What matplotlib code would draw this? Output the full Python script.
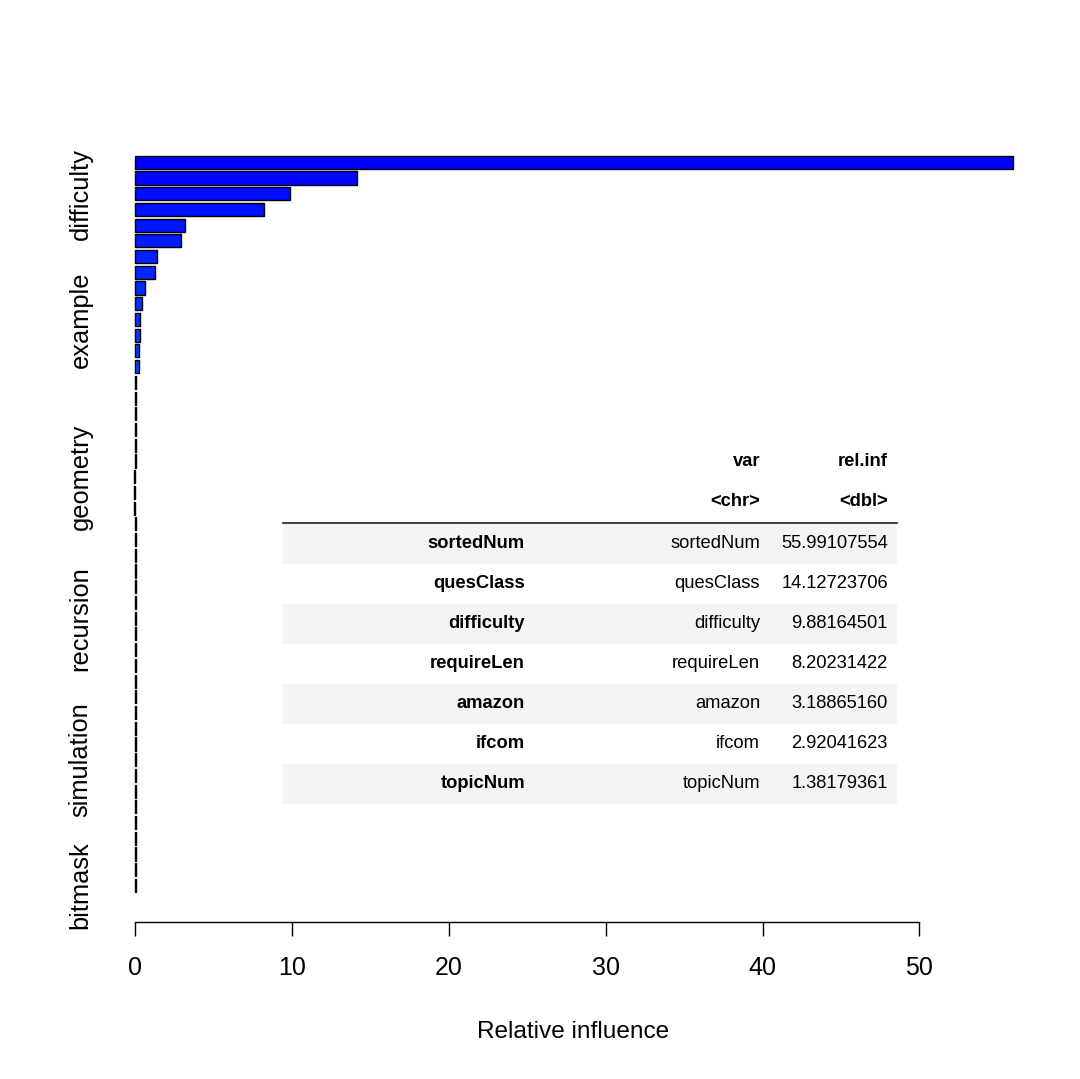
import numpy as np
import matplotlib
matplotlib.use("Agg")
import matplotlib.pyplot as plt
from matplotlib.colors import hsv_to_rgb
from matplotlib.patches import Rectangle
from matplotlib.lines import Line2D

plt.rcParams['font.family'] = ['Liberation Sans', 'DejaVu Sans']

# relative influence of all 47 predictors, largest first
rel_inf = [55.99107554, 14.12723706, 9.88164501, 8.20231422, 3.18865160,
           2.92041623, 1.38179361, 1.25, 0.62, 0.45, 0.28, 0.27, 0.26, 0.25,
           0.07, 0.07, 0.06, 0.06, 0.06, 0.06, -0.08, -0.08, -0.08,
           0.01, 0.01, 0.01, 0.01, 0.01, 0.01, 0.01, 0.01, 0.01, 0.01,
           0.01, 0.01, 0.01, 0.01, 0.01, 0.01, 0.01, 0.01, 0.01, 0.01,
           0.01, 0.01, 0.01, 0.01]

# only these bar names fit on the axis (rank -> name)
shown_rank = [3, 11, 21, 30, 39, 47]
shown_name = ["difficulty", "example", "geometry", "recursion", "simulation", "bitmask"]

# head of the summary table
tab_var = ["sortedNum", "quesClass", "difficulty", "requireLen", "amazon", "ifcom", "topicNum"]
tab_val = ["55.99107554", "14.12723706", "9.88164501", "8.20231422",
           "3.18865160", "2.92041623", "1.38179361"]

W, H = 1080, 1079
fig = plt.figure(figsize=(W / 100, H / 100), dpi=100)

def fx(px):
    return px / W

def fy(py):
    return 1 - py / H

ax = fig.add_axes([fx(98), fy(921.5), fx(1049) - fx(98), fy(126.2) - fy(921.5)])

n = len(rel_inf)
ranks = np.arange(1, n + 1)
ypos = 0.7 + 1.2 * (n - ranks)
# rainbow(n, start=3/6, end=4/6): cyan at the bottom bar, blue at the top
hues = 0.5 + (n - ranks) / (n - 1) * (1 / 6)
colors = [hsv_to_rgb((h, 1, 1)) for h in hues]

ax.barh(ypos, rel_inf, height=1.0, color=colors, edgecolor='black', linewidth=1.0)

ax.set_xlim(-2.385, 58.27)
ax.set_ylim(-2.05, 58.65)

for s in ['top', 'right', 'left']:
    ax.spines[s].set_visible(False)
ax.spines['bottom'].set_bounds(0, 50)
ax.spines['bottom'].set_linewidth(1.0)

ax.set_xticks([0, 10, 20, 30, 40, 50])
ax.tick_params(axis='x', length=10, width=1.0, labelsize=18, pad=15)

lab_y = [0.7 + 1.2 * (n - r) for r in shown_rank]
ax.set_yticks(lab_y, shown_name, rotation=90, va='center', fontsize=18.3)
ax.tick_params(axis='y', length=0, pad=4)

ax.set_xlabel("Relative influence", fontsize=17.6, labelpad=29)

# --- table overlay ---
fs = 13.2
left, right = 283, 897
fig.text(fx(760), fy(462), "var", ha='right', va='center', fontsize=fs, fontweight='bold')
fig.text(fx(888), fy(462), "rel.inf", ha='right', va='center', fontsize=fs, fontweight='bold')
fig.text(fx(760), fy(501), "<chr>", ha='right', va='center', fontsize=fs, fontweight='bold')
fig.text(fx(888), fy(501), "<dbl>", ha='right', va='center', fontsize=fs, fontweight='bold')
fig.add_artist(Line2D([fx(left), fx(right)], [fy(522.5), fy(522.5)],
                      color='#333333', linewidth=1.3, transform=fig.transFigure))

for i, (v, r) in enumerate(zip(tab_var, tab_val)):
    top = 524 + 40 * i
    if i % 2 == 0:
        fig.patches.append(Rectangle((fx(left), fy(top + 39.5)), fx(right) - fx(left),
                                     39.5 / H, transform=fig.transFigure,
                                     facecolor='#f4f4f4', edgecolor='none', zorder=0))
    yc = fy(top + 19.5)
    fig.text(fx(525), yc, v, ha='right', va='center', fontsize=fs, fontweight='bold')
    fig.text(fx(760), yc, v, ha='right', va='center', fontsize=fs)
    fig.text(fx(888), yc, r, ha='right', va='center', fontsize=fs)

fig.savefig("out.png", dpi=100)
